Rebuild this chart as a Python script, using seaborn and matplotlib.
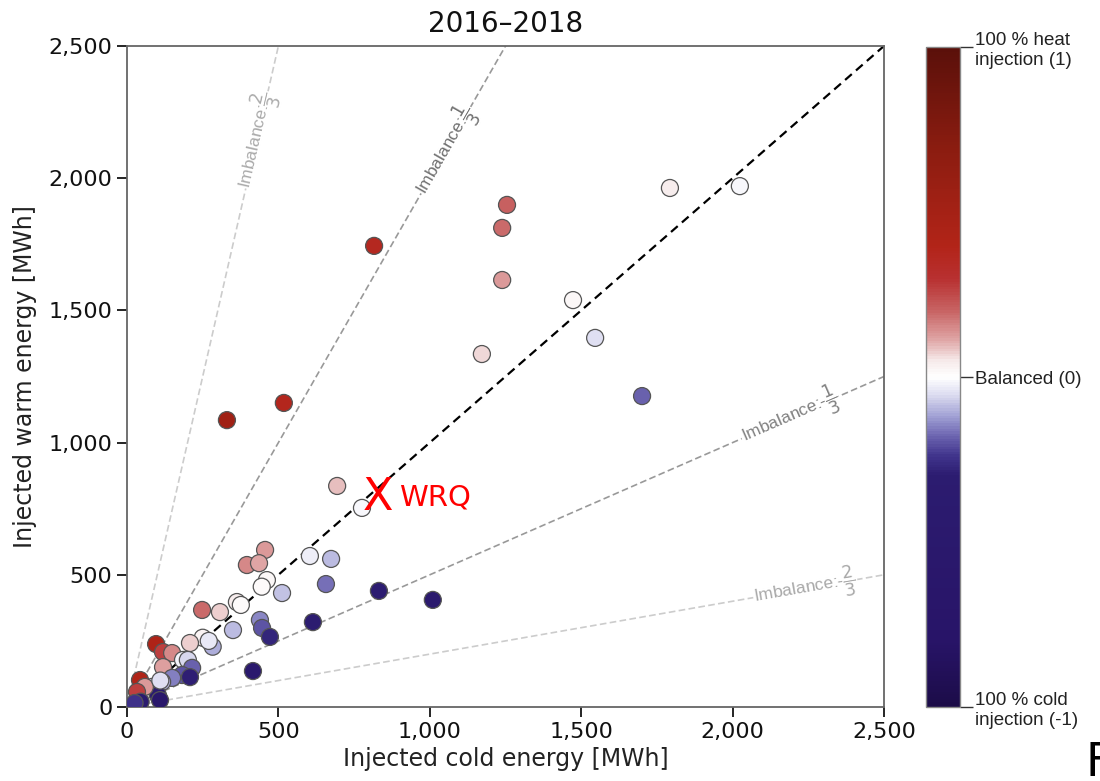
import numpy as np
import pandas as pd
import matplotlib
matplotlib.use("Agg")
import matplotlib.pyplot as plt
import seaborn as sns
from matplotlib.colors import LinearSegmentedColormap, Normalize
from matplotlib.cm import ScalarMappable
from matplotlib.ticker import FuncFormatter, MultipleLocator

# Injected energy per well/period [MWh]
cold = [1793, 2024, 1255, 1239, 1239, 816, 1473, 1172, 1546, 1701,
        330, 518, 694, 776, 604, 674, 657, 832, 1010, 614, 416,
        456, 396, 436, 462, 445, 512, 248, 307, 363, 376, 439, 446, 472,
        350, 250, 208, 283, 270,
        96, 119, 149, 119, 185, 201, 215, 182, 149, 116, 208, 83, 102,
        43, 59, 33, 45, 25, 110, 109]
warm = [1963, 1970, 1899, 1812, 1615, 1744, 1539, 1335, 1396, 1176,
        1085, 1150, 836, 753, 571, 560, 465, 439, 405, 321, 136,
        594, 537, 544, 480, 455, 431, 367, 359, 397, 386, 329, 299, 265,
        291, 262, 242, 228, 250,
        238, 208, 204, 151, 178, 178, 148, 121, 110, 95, 113, 76, 45,
        102, 76, 57, 20, 15, 100, 26]

title = "2016–2018"
x_label = "Injected cold energy [MWh]"
y_label = "Injected warm energy [MWh]"
cbar_ticks = [-1, 0, 1]
cbar_labels = ["100 % cold\ninjection (-1)", "Balanced (0)", "100 % heat\ninjection (1)"]

# Reference lines warm = ratio * cold and their labels
ratios = [5, 2, 0.5, 0.2]
ratio_labels = [r"Imbalance:$\dfrac{2}{3}$", r"Imbalance:$\dfrac{1}{3}$",
                r"Imbalance:-$\dfrac{1}{3}$", r"Imbalance:-$\dfrac{2}{3}$"]
ratio_colors = ["#cccccc", "#999999", "#999999", "#cccccc"]
text_colors = ["#aaaaaa", "#707070", "#808080", "#a8a8a8"]
label_x = [429, 1053, 2190, 2240]

df = pd.DataFrame({"cold": cold, "warm": warm})
df["imbalance"] = (df["warm"] - df["cold"]) / (df["warm"] + df["cold"])

cmap = LinearSegmentedColormap.from_list("heat_cold", [
    (0.00, "#1c0c48"), (0.10, "#281468"), (0.35, "#2c1c70"),
    (0.38, "#40348c"), (0.41, "#6c64b0"), (0.44, "#a0a0d4"),
    (0.475, "#e0e0f2"), (0.50, "#ffffff"), (0.525, "#f6eaea"),
    (0.555, "#e0a8a8"), (0.60, "#c86464"), (0.65, "#b83030"),
    (0.70, "#b22418"), (0.85, "#8a1c10"), (1.00, "#5a100a")])
norm = Normalize(-1, 1)

sns.set_theme(style="ticks")
plt.rcParams["font.family"] = ["DejaVu Sans"]
plt.rcParams["mathtext.fontset"] = "dejavusans"

fig = plt.figure(figsize=(11, 7.81), dpi=100)
ax = fig.add_axes([127 / 1100, 74 / 781, 757 / 1100, 661 / 781])
ax.set_xlim(0, 2500)
ax.set_ylim(0, 2500)

xs = np.array([0, 2500])
for r, lab, col, tcol, lx in zip(ratios, ratio_labels, ratio_colors, text_colors, label_x):
    ax.plot(xs, r * xs, ls=(0, (4, 2)), color=col, lw=1.2, zorder=1)
    p0 = ax.transData.transform((0, 0))
    p1 = ax.transData.transform((1000, 1000 * r))
    ang = np.degrees(np.arctan2(p1[1] - p0[1], p1[0] - p0[0]))
    ax.text(lx, r * lx, lab, rotation=ang, rotation_mode="anchor",
            ha="center", va="center", color=tcol,
            fontsize=12.5, family="Liberation Sans",
            bbox=dict(boxstyle="square,pad=0.05", fc="white", ec="none"), zorder=2)

ax.plot(xs, xs, ls=(0, (4, 2.5)), color="black", lw=1.6, zorder=2)

sns.scatterplot(data=df, x="cold", y="warm", hue="imbalance", palette=cmap,
                hue_norm=norm, s=150, edgecolor="#555555", linewidth=0.9,
                legend=False, ax=ax, zorder=3)

ax.text(830, 794, "X", color="red", fontsize=32, ha="center", va="center", zorder=4)
ax.text(900, 794, "WRQ", color="red", fontsize=21, ha="left", va="center", zorder=4)

ax.xaxis.set_major_locator(MultipleLocator(500))
ax.yaxis.set_major_locator(MultipleLocator(500))
fmt = FuncFormatter(lambda v, p: f"{int(v):,}")
ax.xaxis.set_major_formatter(fmt)
ax.yaxis.set_major_formatter(fmt)
ax.tick_params(labelsize=16, length=7, width=1.2, color="black", labelcolor="#111111")
for sp in ax.spines.values():
    sp.set_color("#666666")
    sp.set_linewidth(1.3)
ax.set_xlabel(x_label, fontsize=17, color="#222222", labelpad=4)
ax.set_ylabel(y_label, fontsize=17, color="#222222", labelpad=8)
ax.set_title(title, fontsize=20, color="#111111", pad=10)

cax = fig.add_axes([926 / 1100, 74 / 781, 34 / 1100, 660 / 781])
sm = ScalarMappable(norm=norm, cmap=cmap)
cbar = fig.colorbar(sm, cax=cax)
cbar.set_ticks(cbar_ticks)
cbar.set_ticklabels(cbar_labels)
cbar.outline.set_edgecolor("#888888")
cbar.outline.set_linewidth(1.0)
cax.tick_params(length=9, width=1.0, color="#333333", labelsize=13.5, pad=2,
                labelcolor="#222222")
for t in cax.get_yticklabels():
    t.set_family("Liberation Sans")

fig.text(1086 / 1100, 5 / 781, "F", fontsize=33, color="black", ha="left", va="baseline")

fig.savefig("out.png", dpi=100)
